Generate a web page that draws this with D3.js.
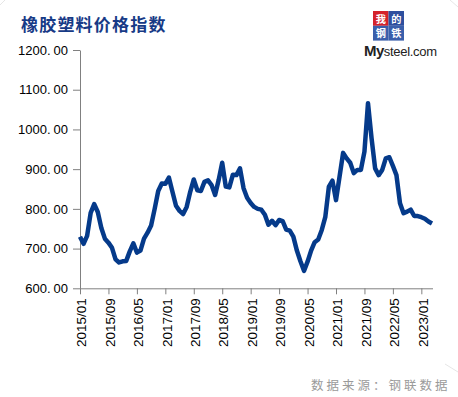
<!DOCTYPE html>
<html>
<head>
<meta charset="utf-8">
<script src="https://cdn.jsdelivr.net/npm/d3@7"></script>
<style>
  html, body { margin: 0; padding: 0; background: #fff; }
  svg { display: block; }
</style>
</head>
<body>
<svg id="chart" width="458" height="397"></svg>
<script>
// monthly index, 2015/01 .. 2023/04
let startYear = 2015;
let indexValues = [
    730, 712, 732, 790, 812, 792, 752, 725, 715, 702, 673, 665,
    668, 669, 693, 713, 690, 695, 725, 740, 758, 800, 845, 864,
    863, 879, 843, 808, 795, 787, 805, 843, 874, 847, 845, 868,
    872, 860, 835, 873, 916, 856, 854, 886, 885, 902, 852, 828,
    815, 805, 800, 798, 785, 760, 770, 759, 772, 769, 748, 745,
    730, 695, 668, 644, 667, 695, 716, 723, 747, 780, 856, 871,
    822, 881, 941, 927, 916, 890, 898, 898, 944, 1066, 978, 902,
    885, 898, 927, 930, 908, 885, 814, 789, 793, 798, 782, 782,
    779, 775, 768, 763
];
let yTicks = [600, 700, 800, 900, 1000, 1100, 1200];
let xTickEvery = 8;

let monthLabels = indexValues.map(function(v, i) {
    let y = startYear + Math.floor(i / 12);
    let m = (i % 12) + 1;
    return y + "/" + (m < 10 ? "0" + m : m);
});

let svg = d3.select('#chart');
let plot = {l: 80, r: 432, t: 50, b: 288.3};

let x = d3.scaleLinear().domain([0, indexValues.length - 1]).range([plot.l, plot.r]);
let y = d3.scaleLinear().domain([600, 1200]).range([plot.b, plot.t]);

// faint corner marks
let corners = [[0, 5, 5, 0], [450, 0, 458, 7], [445, 364, 458, 372]];
corners.forEach(function(c) {
    svg.append("line")
        .attr("x1", c[0]).attr("y1", c[1]).attr("x2", c[2]).attr("y2", c[3])
        .attr("stroke", "#e6e6e6").attr("stroke-width", 1);
});

// title
svg.append("text")
    .attr("x", 21)
    .attr("y", 31)
    .attr("font-family", "Noto Sans CJK SC")
    .attr("font-weight", "bold")
    .attr("font-size", "17px")
    .attr("letter-spacing", "1.2px")
    .attr("fill", "#173a86")
    .text("橡胶塑料价格指数");

// logo
let logo = svg.append("g").attr("transform", "translate(373,11)");
let logoCells = [
    {t: "我", c: "#d4222b", cx: 0, cy: 0},
    {t: "的", c: "#2e4f9e", cx: 1, cy: 0},
    {t: "钢", c: "#3a5fab", cx: 0, cy: 1},
    {t: "铁", c: "#3a5fab", cx: 1, cy: 1}
];
logoCells.forEach(function(d) {
    logo.append("rect")
        .attr("x", d.cx * 15.5).attr("y", d.cy * 14.8)
        .attr("width", 15.5).attr("height", 14.8)
        .attr("fill", d.c);
    logo.append("text")
        .attr("x", d.cx * 15.5 + 7.75).attr("y", d.cy * 14.8 + 11.6)
        .attr("text-anchor", "middle")
        .attr("font-family", "Noto Sans CJK SC")
        .attr("font-weight", "bold")
        .attr("font-size", "10.2px")
        .attr("fill", "#fff")
        .text(d.t);
});
let logoText = svg.append("text")
    .attr("x", 364)
    .attr("y", 56)
    .attr("font-family", "Liberation Sans, Arial, sans-serif")
    .attr("fill", "#222");
logoText.append("tspan").attr("font-size", "15px").attr("font-weight", "bold").attr("letter-spacing", "-0.5px").text("My");
logoText.append("tspan").attr("font-size", "13px").attr("letter-spacing", "-0.3px").text("steel.com");

// y axis
let yAxis = svg.append("g")
    .attr("transform", "translate(" + plot.l + ",0)")
    .call(d3.axisLeft(y).tickValues(yTicks).tickSize(7).tickSizeOuter(0).tickPadding(5));
yAxis.select(".domain").attr("stroke", "#808080");
yAxis.selectAll(".tick line").attr("stroke", "#808080");
yAxis.selectAll(".tick text")
    .attr("font-family", "Liberation Sans, Arial, sans-serif")
    .attr("font-size", "13px")
    .attr("fill", "#000")
    .each(function(d) {
        let parts = d3.format(".2f")(d).split(".");
        let t = d3.select(this);
        t.text(null);
        t.append("tspan").text(parts[0] + ".");
        t.append("tspan").attr("dx", 3).text(parts[1]);
    });

// x axis
let xTickIdx = indexValues.map((v, i) => i).filter(i => i % xTickEvery === 0);
let xAxis = svg.append("g")
    .attr("transform", "translate(0," + plot.b + ")")
    .call(d3.axisBottom(x).tickValues(xTickIdx).tickSize(6).tickSizeOuter(0)
        .tickFormat(i => monthLabels[i]));
xAxis.select(".domain").attr("stroke", "#808080").attr("d", "M" + plot.l + ",0.5H" + (plot.r + 1));
xAxis.selectAll(".tick line").attr("stroke", "#808080");
xAxis.selectAll(".tick text")
    .attr("font-family", "Liberation Sans, Arial, sans-serif")
    .attr("font-size", "13.5px")
    .attr("fill", "#000")
    .attr("text-anchor", "end")
    .attr("transform", "translate(1,10) rotate(-90)")
    .attr("x", 0)
    .attr("y", 0)
    .attr("dy", "0.35em");

// line
let line = d3.line()
    .x((d, i) => x(i))
    .y(d => y(d));

svg.append("path")
    .datum(indexValues)
    .attr("d", line)
    .attr("fill", "none")
    .attr("stroke", "#053a8a")
    .attr("stroke-width", 4.5)
    .attr("stroke-linejoin", "round")
    .attr("stroke-linecap", "butt");

// source
svg.append("text")
    .attr("x", 311)
    .attr("y", 390)
    .attr("font-family", "Noto Sans CJK SC")
    .attr("font-size", "12.5px")
    .attr("letter-spacing", "3px")
    .attr("fill", "#9a9a9a")
    .text("数据来源：钢联数据");
</script>
</body>
</html>
